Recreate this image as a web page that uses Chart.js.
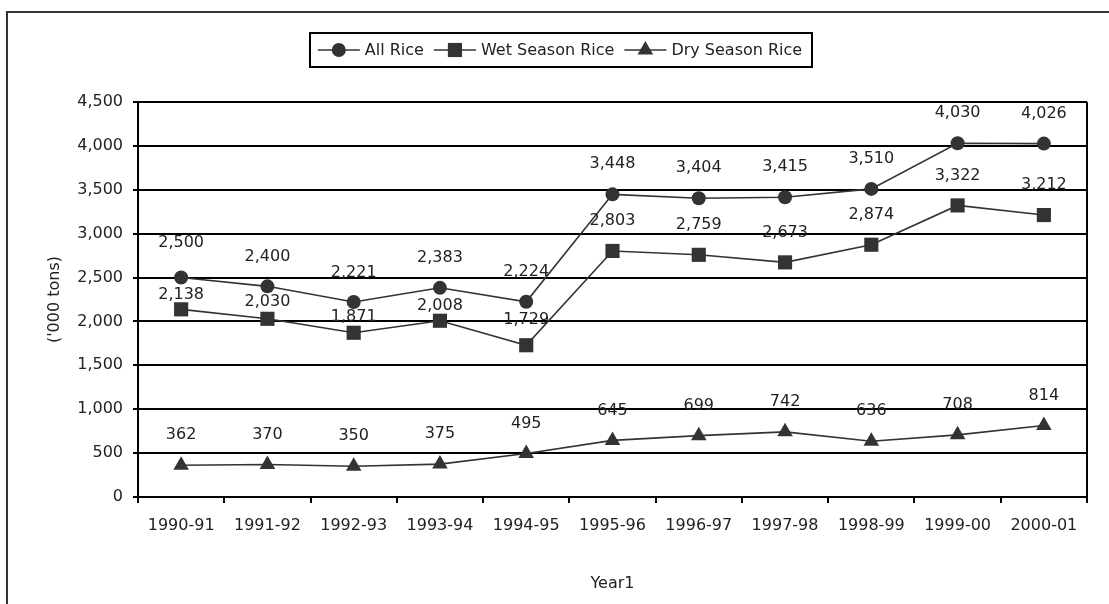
<!DOCTYPE html>
<html>
<head>
<meta charset="utf-8">
<script src="https://cdn.jsdelivr.net/npm/chart.js@4"></script>
<style>
  body { margin: 0; background: #fff; }
  canvas { display: block; }
</style>
</head>
<body>
<canvas id="grafico" width="1109" height="604"></canvas>
<script>
// ===== DATA =====
const anos = ["1990-91", "1991-92", "1992-93", "1993-94", "1994-95", "1995-96",
  "1996-97", "1997-98", "1998-99", "1999-00", "2000-01"];
const allRice = [2500, 2400, 2221, 2383, 2224, 3448, 3404, 3415, 3510, 4030, 4026];
const wetRice = [2138, 2030, 1871, 2008, 1729, 2803, 2759, 2673, 2874, 3322, 3212];
const dryRice = [362, 370, 350, 375, 495, 645, 699, 742, 636, 708, 814];
const seriesNames = ["All Rice", "Wet Season Rice", "Dry Season Rice"];

const FONT = "DejaVu Sans";
const INK = "#333";
const fmt = v => v.toLocaleString("en-US");

// ===== PLUGIN: frame, plot border, labels, legend =====
const extras = {
  id: "extras",
  beforeDraw(chart) {
    const ctx = chart.ctx;
    ctx.save();
    ctx.fillStyle = "#fff";
    ctx.fillRect(0, 0, chart.width, chart.height);
    ctx.strokeStyle = "#333";
    ctx.lineWidth = 2;
    ctx.strokeRect(7, 12, chart.width + 20, chart.height + 20);
    ctx.restore();
  },
  afterDatasetsDraw(chart, args, opts) {
    const ctx = chart.ctx;
    const a = chart.chartArea;
    ctx.save();
    ctx.strokeStyle = "#000";
    ctx.lineWidth = 2;
    ctx.beginPath();
    ctx.moveTo(Math.round(a.right), a.top);
    ctx.lineTo(Math.round(a.right), a.bottom);
    ctx.stroke();

    // data labels
    ctx.font = `16px "${FONT}"`;
    ctx.fillStyle = "#222";
    ctx.textAlign = "center";
    ctx.textBaseline = "middle";
    chart.data.datasets.forEach((ds, i) => {
      const meta = chart.getDatasetMeta(i);
      meta.data.forEach((pt, j) => {
        const nudge = (opts.labelLift[i] && opts.labelLift[i][j]) || 30;
        ctx.fillText(fmt(ds.data[j]), pt.x, pt.y - nudge);
      });
    });

    // legend
    const cx = 560, cy = 50;
    const lineLen = 42, gap = 5, itemGap = 10;
    const widths = chart.data.datasets.map(ds => lineLen + gap + ctx.measureText(ds.label).width);
    const total = widths.reduce((s, w) => s + w, 0) + itemGap * (widths.length - 1);
    const boxL = cx - total / 2 - 8, boxR = cx + total / 2 + 10;
    ctx.strokeStyle = "#000";
    ctx.lineWidth = 2;
    ctx.strokeRect(Math.round(boxL), 33, Math.round(boxR - boxL), 34);
    let x = cx - total / 2;
    ctx.textAlign = "left";
    chart.data.datasets.forEach((ds, i) => {
      ctx.strokeStyle = INK;
      ctx.lineWidth = 1.5;
      ctx.beginPath();
      ctx.moveTo(x, cy);
      ctx.lineTo(x + lineLen, cy);
      ctx.stroke();
      ctx.fillStyle = INK;
      Chart.helpers.drawPoint(ctx, {
        pointStyle: ds.pointStyle, radius: ds.pointRadius, borderWidth: 0
      }, x + lineLen / 2, cy);
      ctx.fillStyle = "#222";
      ctx.fillText(ds.label, x + lineLen + gap, cy + 1);
      x += widths[i] + itemGap;
    });
    ctx.restore();
  }
};

function serie(label, data, style, r) {
  return {
    label, data,
    borderColor: INK, backgroundColor: INK,
    borderWidth: 1.6,
    pointStyle: style, pointRadius: r, pointHoverRadius: r,
    pointBorderWidth: 0,
    tension: 0
  };
}

new Chart(document.getElementById("grafico"), {
  type: "line",
  data: {
    labels: anos,
    datasets: [
      serie(seriesNames[0], allRice, "circle", 7),
      serie(seriesNames[1], wetRice, "rect", 10),
      serie(seriesNames[2], dryRice, "triangle", 9)
    ]
  },
  plugins: [extras],
  options: {
    responsive: false,
    animation: false,
    devicePixelRatio: 1,
    layout: { padding: { top: 102, right: 22, left: 0, bottom: 0 } },
    plugins: {
      legend: { display: false },
      tooltip: { enabled: false },
      extras: { labelLift: { 0: [35, 29, 29], 1: [14, 17, 16, 15, 25] } }
    },
    scales: {
      x: {
        offset: true,
        afterFit: s => { s.height = 107; },
        grid: { offset: true, drawOnChartArea: false, color: "#000", lineWidth: 2, tickLength: 6 },
        border: { color: "#000", width: 2 },
        ticks: { color: "#222", font: { family: FONT, size: 16 }, padding: 13, maxRotation: 0, autoSkip: false },
        title: { display: true, text: "Year1", color: "#222", font: { family: FONT, size: 16 }, padding: { bottom: 11 } }
      },
      y: {
        min: 0, max: 4500,
        afterFit: s => { s.width = 138; },
        grid: { color: "#000", lineWidth: 2, tickLength: 5 },
        border: { color: "#000", width: 2 },
        ticks: { stepSize: 500, color: "#222", font: { family: FONT, size: 16 }, padding: 10, callback: v => fmt(v) },
        title: { display: true, text: "('000 tons)", color: "#222", font: { family: FONT, size: 16 }, padding: { top: 45 } }
      }
    }
  }
});
</script>
</body>
</html>
